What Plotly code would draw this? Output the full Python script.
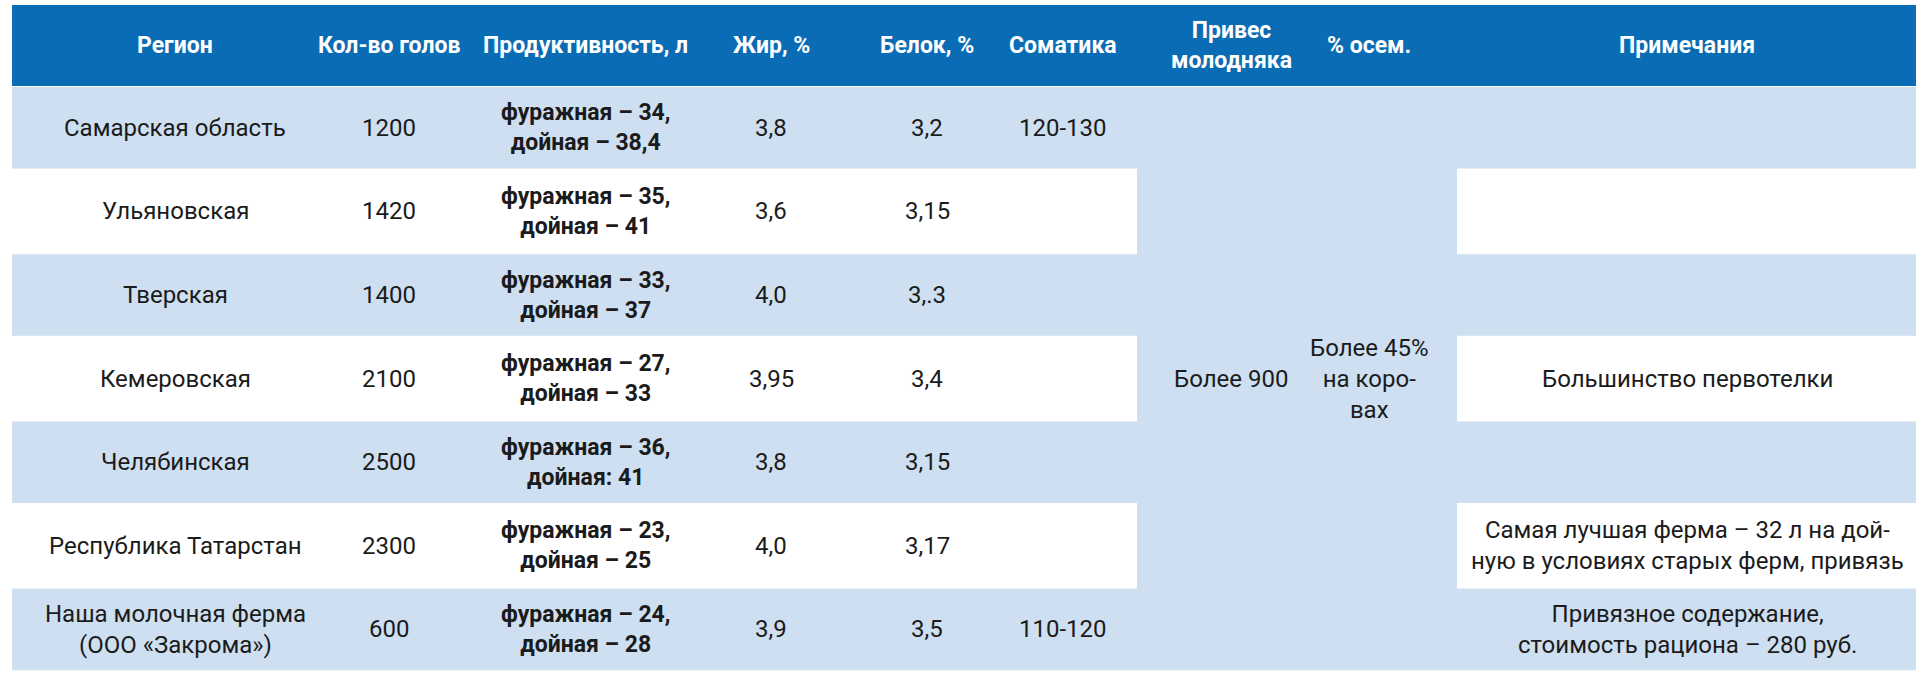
"""Сравнение молочных ферм по регионам -- таблица с объединёнными ячейками.

go.Table не умеет объединять ячейки, поэтому таблица собрана из
прямоугольников (shapes) и подписей (annotations) на осях в пикселях.
"""

import plotly.graph_objects as go

HEADERS = [
    "Регион", "Кол-во голов", "Продуктивность, л", "Жир, %", "Белок, %",
    "Соматика", "Привес<br>молодняка", "% осем.", "Примечания",
]
REGIONS = [
    "Самарская область", "Ульяновская", "Тверская", "Кемеровская",
    "Челябинская", "Республика Татарстан", "Наша молочная ферма<br>(ООО «Закрома»)",
]
HEADS = [1200, 1420, 1400, 2100, 2500, 2300, 600]
FORAGE_YIELD = ["34", "35", "33", "27", "36", "23", "24"]
MILKING_YIELD = [" – 38,4", " – 41", " – 37", " – 33", ": 41", " – 25", " – 28"]
FAT = ["3,8", "3,6", "4,0", "3,95", "3,8", "4,0", "3,9"]
PROTEIN = ["3,2", "3,15", "3,.3", "3,4", "3,15", "3,17", "3,5"]
SOMATIC = ["120-130", "", "", "", "", "", "110-120"]
WEIGHT_GAIN = "Более 900"
INSEMINATION = "Более 45%<br>на коро-<br>вах"
NOTES = [
    "", "", "", "Большинство первотелки", "",
    "Самая лучшая ферма – 32 л на дой-<br>ную в условиях старых ферм, привязь",
    "Привязное содержание,<br>стоимость рациона – 280 руб.",
]

# layout (pixels)
W, H = 1920, 686
COL_EDGES = [12, 290, 486, 682, 862, 990, 1137, 1325, 1457, 1916]
COL_TEXT_X = [175, 389, 585, 771, 927, 1063, 1231, 1369, 1687]
HEADER_TOP, HEADER_BOTTOM = 5, 86
ROW_H = 83.6
BLUE = "#0a6cb4"
LIGHT = "#cddff0"
TEXT = "#1b1b1b"
FONT = "Roboto, Liberation Sans, sans-serif"
MERGED_COLS = (6, 7)

n_rows = len(REGIONS)
row_top = [HEADER_BOTTOM + i * ROW_H for i in range(n_rows)]
table_bottom = HEADER_BOTTOM + n_rows * ROW_H

shapes = []
annotations = []


def rect(x0, x1, y0, y1, color):
    shapes.append(dict(type="rect", xref="x", yref="y", x0=x0, x1=x1, y0=y0, y1=y1,
                       fillcolor=color, line=dict(width=0), layer="below"))


def label(x, y, text, size=24, color=TEXT, bold=False):
    if bold:
        text = "<b>" + text.replace("<br>", "</b><br><b>") + "</b>"
    annotations.append(dict(x=x, y=y, xref="x", yref="y", text=text, showarrow=False,
                            xanchor="center", yanchor="middle", align="center",
                            font=dict(family=FONT, size=size, color=color)))


# header
rect(COL_EDGES[0], COL_EDGES[-1], HEADER_TOP, HEADER_BOTTOM, BLUE)
for x, h in zip(COL_TEXT_X, HEADERS):
    label(x, (HEADER_TOP + HEADER_BOTTOM) / 2, h, size=23, color="white", bold=True)

# body rows (alternating), skipping the merged columns
for i in range(n_rows):
    fill = LIGHT if i % 2 == 0 else "white"
    y0, y1 = row_top[i] + 1, row_top[i] + ROW_H - 1
    rect(COL_EDGES[0], COL_EDGES[MERGED_COLS[0]], y0, y1, fill)
    rect(COL_EDGES[MERGED_COLS[-1] + 1], COL_EDGES[-1], y0, y1, fill)
    yc = row_top[i] + ROW_H / 2
    prod = f"фуражная – {FORAGE_YIELD[i]},<br>дойная{MILKING_YIELD[i]}"
    cells = [REGIONS[i], str(HEADS[i]), prod, FAT[i], PROTEIN[i], SOMATIC[i]]
    for c, text in enumerate(cells):
        if text:
            label(COL_TEXT_X[c], yc, text, size=23 if c == 2 else 24, bold=(c == 2))
    if NOTES[i]:
        label(COL_TEXT_X[8], yc, NOTES[i])

# merged columns: one light block over all rows
rect(COL_EDGES[MERGED_COLS[0]], COL_EDGES[MERGED_COLS[-1] + 1], HEADER_BOTTOM + 1, table_bottom - 1, LIGHT)
mid = row_top[3] + ROW_H / 2
label(COL_TEXT_X[6], mid, WEIGHT_GAIN)
label(COL_TEXT_X[7], mid, INSEMINATION)

fig = go.Figure()
fig.update_layout(
    width=W, height=H, margin=dict(l=0, r=0, t=0, b=0),
    paper_bgcolor="white", plot_bgcolor="white",
    xaxis=dict(range=[0, W], visible=False, fixedrange=True),
    yaxis=dict(range=[H, 0], visible=False, fixedrange=True),
    shapes=shapes, annotations=annotations, showlegend=False,
)
# drop the browser's default 8px body margin so the table sits where drawn
fig.write_html("out.html", config={"displayModeBar": False},
               post_script="document.body.style.margin = '0';")
